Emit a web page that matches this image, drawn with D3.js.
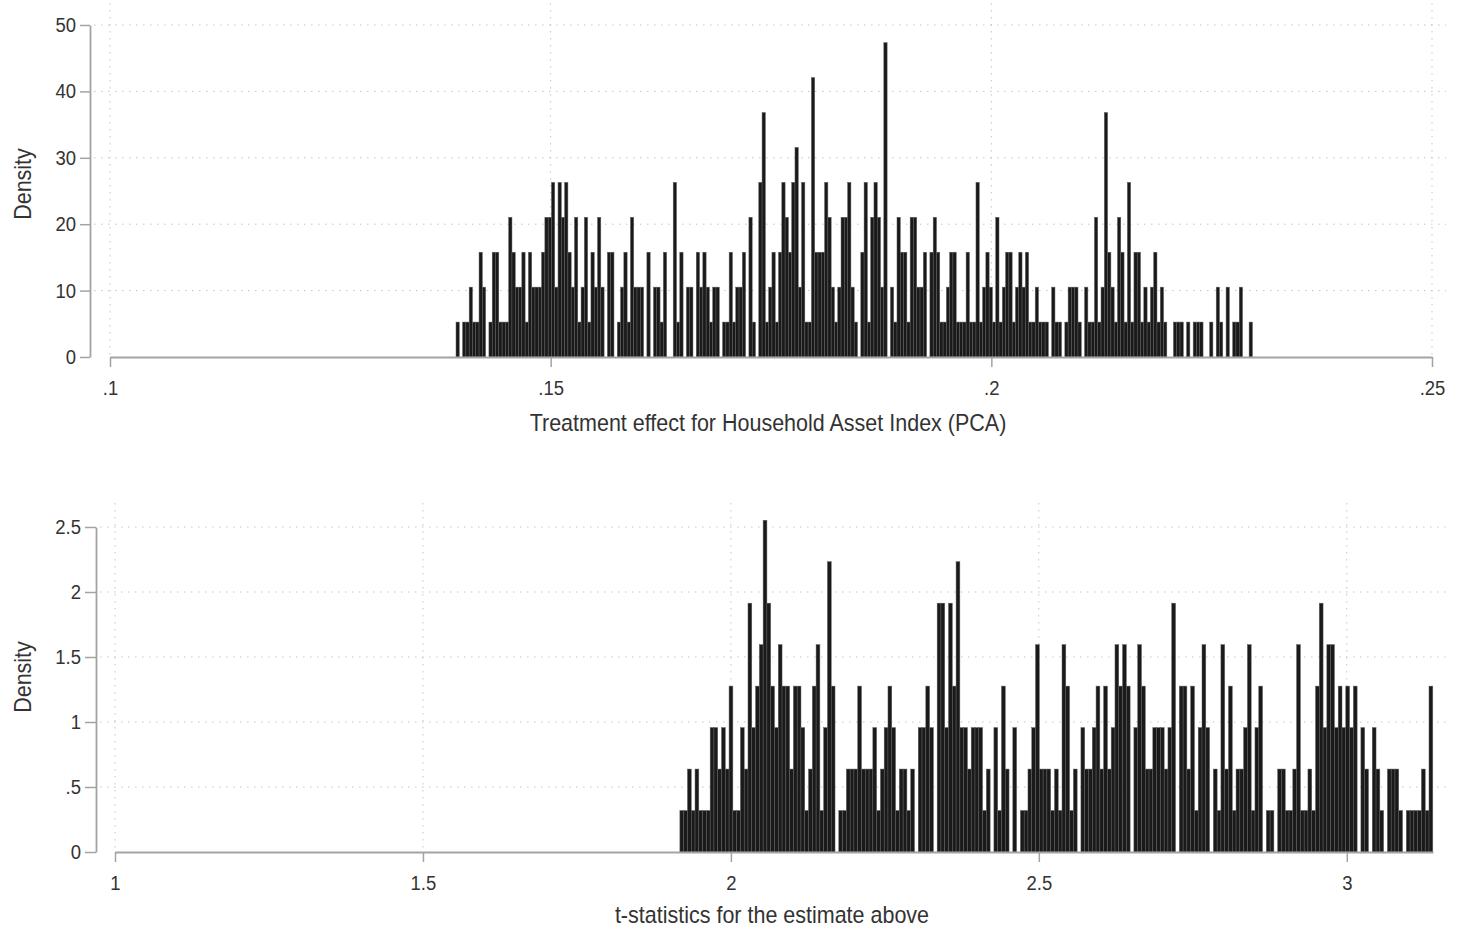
<!DOCTYPE html>
<html>
<head>
<meta charset="utf-8">
<script src="https://cdn.jsdelivr.net/npm/d3@7"></script>
<style>
  body { margin: 0; background: #fff; }
  text { font-family: "Liberation Sans", Arial, sans-serif; fill: #333; }
  .tall { transform-box: fill-box; transform-origin: center; transform: scaleY(1.1); }
</style>
</head>
<body>
<svg id="chart" width="1460" height="932"></svg>
<script>
var topCounts = [
  1,0,1,1,2,1,1,3,2,0, 1,3,3,1,1,1,4,3,2,2, 3,1,3,2,2,2,3,4,4,5, 2,5,4,5,3,2,4,1,2,4,
  1,3,2,4,2,0,3,3,0,1, 2,3,1,4,2,2,2,0,
  3,0,2,2,1,3,0,0,5,1, 3,0,2,2,0,3,2,3,2,1, 2,2,0,1,1,3,1,2,2,3, 0,4,1,0,5,7,1,2,3,1,
  3,5,4,3,5,6,2,5,1,1, 8,3,3,3,5,4,2,1,2,4,
  4,5,2,1,0,3,5,1,4,5, 4,2,9,0,2,1,4,3,3,1, 4,4,2,2,3,0,3,4,3,1, 1,2,3,3,1,1,1,3,1,1,
  5,1,2,3,2,1,4,1,2,3, 3,1,2,3,2,3,1,1,2,
  1,1,1,0,2,1,1,0,1,2, 2,2,1,0,2,1,1,4,1,2, 7,3,2,1,4,3,1,5,1,3, 3,1,2,1,2,3,1,2,1,0,
  0,1,1,1,0,1,0,1,1,1, 0,0,1,0,2,1,0,2,0,1, 1,2,0,0,1
];
var topBinStart = 0.13926, topBinWidth = 0.0003734, topUnit = 5.26;

var botCounts = [
  1,1,2,1,2,1,1,1,3,3, 2,3,2,4,1,1,3,2,6,3, 4,5,8,6,4,3,5,4,4,2, 4,4,3,1,2,4,5,1,3,7,
  4,0,1,1,2,2,2,4,2,2,
  2,3,1,2,3,4,3,1,2,2, 1,2,0,3,3,4,3,0,6,6, 3,6,4,7,3,3,2,3,3,3, 1,2,0,3,1,4,2,0,3,0,
  1,1,2,3,5,2,2,2,1,2, 1,5,
  4,1,2,0,3,2,2,3,4,2, 4,2,3,5,4,5,4,0,3,5, 4,2,2,3,3,3,2,3,6,0, 4,4,2,4,1,3,5,3,0,2,
  1,5,2,4,1,2,2,3,5,1, 3,
  4,0,1,1,0,2,2,1,1,2, 5,1,1,2,1,4,6,3,5,5, 3,4,3,4,3,4,0,3,2,0, 3,2,1,0,2,2,2,1,0,1,
  1,1,1,2,1,4
];
var botBinStart = 1.9172, botBinWidth = 0.006143, botUnit = 0.319;

var topXTicks = [0.1, 0.15, 0.2, 0.25];
var topYTicks = [0, 10, 20, 30, 40, 50];
var botXTicks = [1, 1.5, 2, 2.5, 3];
var botYTicks = [0, 0.5, 1, 1.5, 2, 2.5];

var svg = d3.select("#chart");
var fmt = function(d){ return String(d).replace(/^0\./, "."); };

function drawPanel(p){
  var x = d3.scaleLinear().domain(p.xDomain).range(p.xRange);
  var y = d3.scaleLinear().domain(p.yDomain).range(p.yRange);
  var g = svg.append("g");

  // dotted grid
  g.selectAll(".hgrid").data(p.yTicks.slice(1)).enter().append("line")
    .attr("x1", p.yAxisX + 4).attr("x2", 1446)
    .attr("y1", function(d){ return y(d); }).attr("y2", function(d){ return y(d); })
    .attr("stroke", "#c4c4c4").attr("stroke-width", 1).attr("stroke-dasharray", "1.5,5.5");
  g.selectAll(".vgrid").data(p.xTicks).enter().append("line")
    .attr("x1", function(d){ return x(d); }).attr("x2", function(d){ return x(d); })
    .attr("y1", p.plotTop).attr("y2", y(0))
    .attr("stroke", "#c4c4c4").attr("stroke-width", 1).attr("stroke-dasharray", "1.5,5.5");

  var bins = p.counts.map(function(c, i){
    return { x0: p.start + i * p.width, x1: p.start + (i + 1) * p.width, d: c * p.unit };
  }).filter(function(b){ return b.d > 0; });

  g.selectAll(".bar").data(bins).enter().append("rect")
    .attr("x", function(b){ return x(b.x0); })
    .attr("width", function(b){ return x(b.x1) - x(b.x0); })
    .attr("y", function(b){ return y(b.d); })
    .attr("height", function(b){ return y(0) - y(b.d); })
    .attr("fill", "#1a1a1a")
    .attr("stroke", "#5e5e5e")
    .attr("stroke-width", 0.5);

  var yAxis = d3.axisLeft(y).tickValues(p.yTicks).tickFormat(fmt)
    .tickSize(p.yTick).tickSizeOuter(0).tickPadding(4);
  var ya = g.append("g").attr("transform", "translate(" + p.yAxisX + ",0)").call(yAxis);

  var xAxis = d3.axisBottom(x).tickValues(p.xTicks).tickFormat(fmt)
    .tickSize(10).tickSizeOuter(0).tickPadding(p.xPad);
  var xa = g.append("g").attr("transform", "translate(0," + y(0) + ")").call(xAxis);

  [ya, xa].forEach(function(a){
    a.select(".domain").attr("stroke", "#a3a3a3").attr("stroke-width", 1.8);
    a.selectAll(".tick line").attr("stroke", "#a3a3a3").attr("stroke-width", 1.5);
    a.selectAll(".tick text").attr("class", "tall").style("font-size", "18.5px").attr("fill", "#333");
  });

  g.append("text").attr("class", "tall").attr("x", p.titleX).attr("y", p.titleY)
    .attr("text-anchor", "middle").style("font-size", "21.5px").text(p.xTitle);
  g.append("text").attr("transform", "translate(31," + p.yTitleY + ") rotate(-90) scale(1,1.1)")
    .attr("text-anchor", "middle").style("font-size", "21.5px").text("Density");
}

drawPanel({
  counts: topCounts, start: topBinStart, width: topBinWidth, unit: topUnit,
  xDomain: [0.1, 0.25], xRange: [110, 1432], yDomain: [0, 50], yRange: [357, 25],
  xTicks: topXTicks, yTicks: topYTicks, yAxisX: 90, yTick: 10, xPad: 14, plotTop: 3,
  xTitle: "Treatment effect for Household Asset Index (PCA)", titleX: 768, titleY: 430, yTitleY: 184
});

drawPanel({
  counts: botCounts, start: botBinStart, width: botBinWidth, unit: botUnit,
  xDomain: [1, 3.14], xRange: [115, 1433], yDomain: [0, 2.5], yRange: [852, 527],
  xTicks: botXTicks, yTicks: botYTicks, yAxisX: 96, yTick: 11, xPad: 14, plotTop: 503,
  xTitle: "t-statistics for the estimate above", titleX: 772, titleY: 922, yTitleY: 677
});
</script>
</body>
</html>
